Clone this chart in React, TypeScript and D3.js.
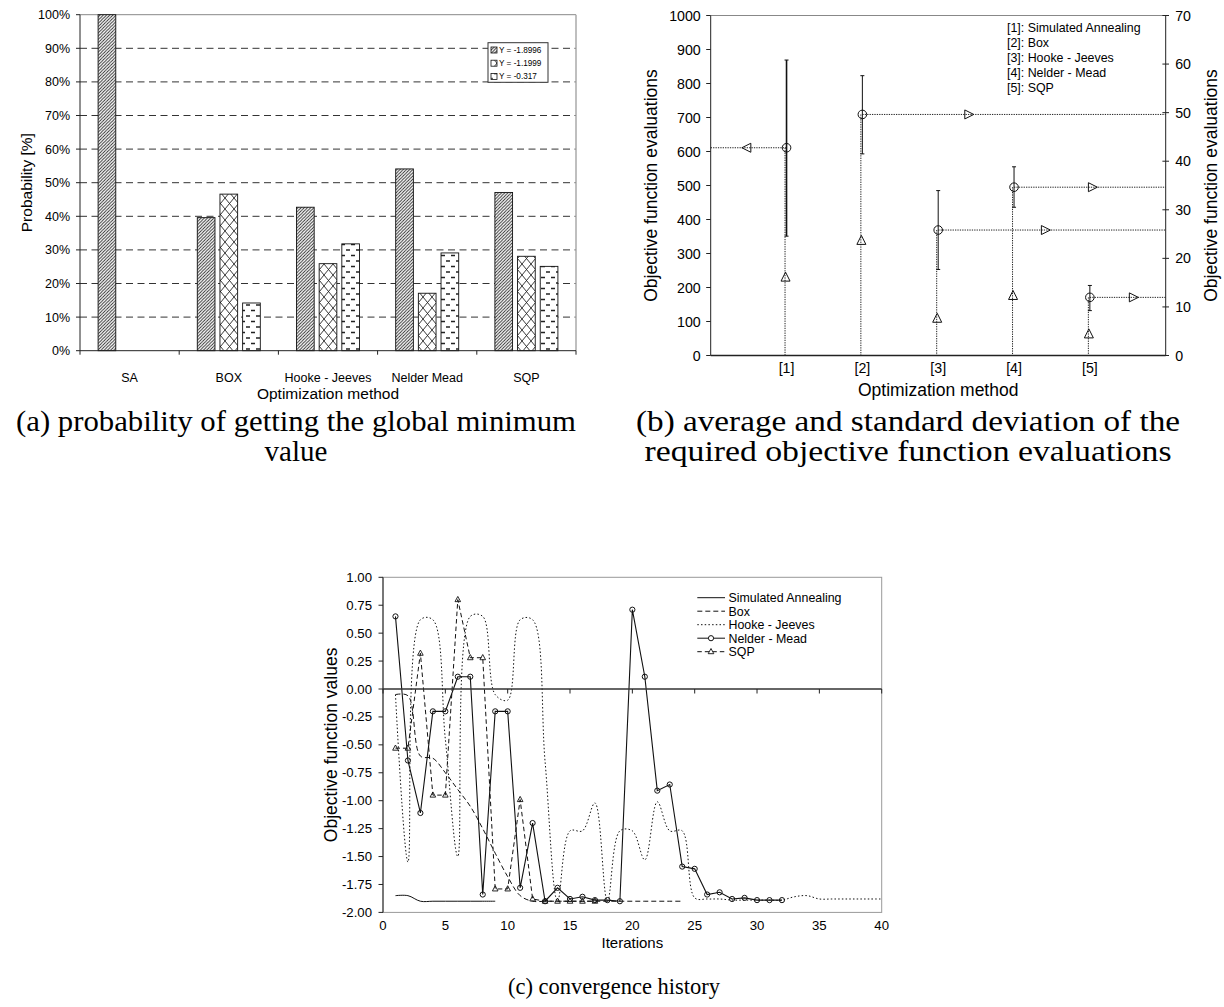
import React from "react";
import * as d3 from "d3";

// ---------- (a) probability of getting the global minimum ----------
const methodsA = ["SA", "BOX", "Hooke - Jeeves", "Nelder Mead", "SQP"];
const levelsA = ["Y = -1.8996", "Y = -1.1999", "Y = -0.317"];
const probLow = [100, 39.6, 42.7, 54.1, 47.1];
const probMid = [0, 46.6, 25.9, 17.1, 28.1];
const probHigh = [0, 14.2, 31.8, 29.1, 25.1];
const probTicks = [0, 10, 20, 30, 40, 50, 60, 70, 80, 90, 100];

// ---------- (b) objective function evaluations ----------
const methodsB = ["[1]", "[2]", "[3]", "[4]", "[5]"];
const legendB = [
  "[1]: Simulated Annealing",
  "[2]: Box",
  "[3]: Hooke - Jeeves",
  "[4]: Nelder - Mead",
  "[5]: SQP",
];
const evalMean = [611, 709, 369, 495, 171];
const evalHigh = [869, 823, 485, 555, 206];
const evalLow = [351, 593, 253, 436, 132];
const evalStd = [232, 340, 111, 178, 65];
const arrowAt = [0.47, 3.41, 4.42, 5.04, 5.58];
const arrowSide = ["left", "right", "right", "right", "right"];
const leftTicksB = [0, 100, 200, 300, 400, 500, 600, 700, 800, 900, 1000];
const rightTicksB = [0, 10, 20, 30, 40, 50, 60, 70];

// ---------- (c) convergence history ----------
const histSA = [-1.85, -1.85, -1.9, -1.9, -1.9, -1.9, -1.9, -1.9, -1.9];
const histBox = [
  -0.05, -0.06, -0.6, -0.62, -0.75, -0.9, -1.05, -1.25, -1.47, -1.68, -1.85, -1.9,
  -1.9, -1.9, -1.9, -1.9, -1.9, -1.9, -1.9, -1.9, -1.9, -1.9, -1.9, -1.9,
];
const histHJ = [
  -0.05, -1.55, 0.62, 0.62, -0.45, -1.5, 0.65, 0.65, -0.05, -0.1, 0.62, 0.62, -0.65,
  -1.9, -1.27, -1.27, -1.02, -1.9, -1.27, -1.27, -1.53, -1.01, -1.27, -1.27, -1.87,
  -1.88, -1.88, -1.89, -1.89, -1.89, -1.89, -1.89, -1.86, -1.85, -1.88, -1.88, -1.88,
  -1.88, -1.88, -1.88,
];
const histNM = [
  0.65, -0.64, -1.11, -0.2, -0.2, 0.11, 0.11, -1.84, -0.2, -0.2, -1.78, -1.2, -1.9,
  -1.78, -1.88, -1.86, -1.89, -1.89, -1.9, 0.71, 0.11, -0.91, -0.855, -1.59, -1.61,
  -1.84, -1.82, -1.88, -1.87, -1.89, -1.89, -1.89,
];
const histSQP = [
  -0.53, -0.53, 0.32, -0.95, -0.95, 0.8, 0.28, 0.28, -1.79, -1.79, -0.99, -1.88, -1.9,
  -1.9, -1.9, -1.9, -1.9,
];
const seriesC = ["Simulated Annealing", "Box", "Hooke - Jeeves", "Nelder - Mead", "SQP"];
const iterTicks = [0, 5, 10, 15, 20, 25, 30, 35, 40];
const valueTicks = [1, 0.75, 0.5, 0.25, 0, -0.25, -0.5, -0.75, -1, -1.25, -1.5, -1.75, -2];

const sans = "'Liberation Sans', Arial, sans-serif";
const serif = "'Liberation Serif', 'Times New Roman', serif";

function Patterns() {
  return (
    <defs>
      <pattern id="hatchA" patternUnits="userSpaceOnUse" width="3.2" height="3.2">
        <rect width="3.2" height="3.2" fill="white" />
        <path d="M-0.8,0.8 L0.8,-0.8 M0,3.2 L3.2,0 M2.4,4 L4,2.4" stroke="#222" strokeWidth="0.9" />
      </pattern>
      <pattern id="crossA" patternUnits="userSpaceOnUse" width="9" height="11">
        <rect width="9" height="11" fill="white" />
        <path d="M0,0 L9,11 M9,0 L0,11" stroke="#222" strokeWidth="0.9" />
      </pattern>
      <pattern id="dashA" patternUnits="userSpaceOnUse" width="10" height="11">
        <rect width="10" height="11" fill="white" />
        <path d="M1,2.5 H5 M6,8 H10" stroke="#222" strokeWidth="1.4" />
      </pattern>
    </defs>
  );
}

function ChartA() {
  const x = d3.scaleBand().domain(methodsA).range([80, 576]);
  const y = d3.scaleLinear().domain([0, 100]).range([350.7, 14.7]);
  const sub = d3.scaleBand<number>().domain([0, 1, 2]).range([-34, 34]).paddingInner(0.22).paddingOuter(0.11);
  const series = [probLow, probMid, probHigh];
  const fills = ["url(#hatchA)", "url(#crossA)", "url(#dashA)"];
  const [x0, x1] = x.range();
  return (
    <g fontFamily={sans}>
      {probTicks.slice(1, -1).map((t) => (
        <line key={t} x1={x0} x2={x1} y1={y(t)} y2={y(t)} stroke="#333" strokeDasharray="7 4.5" />
      ))}
      <line x1={x0} x2={x1} y1={y(100)} y2={y(100)} stroke="#888" />
      <line x1={x1} x2={x1} y1={y(100)} y2={y(0)} stroke="#aaa" strokeWidth={1.5} />
      {methodsA.map((m, i) =>
        series.map((s, k) =>
          s[i] > 0 ? (
            <rect
              key={m + k}
              x={x(m)! + x.bandwidth() / 2 + sub(k)!}
              width={sub.bandwidth()}
              y={y(s[i])}
              height={y(0) - y(s[i])}
              fill={fills[k]}
              stroke="#111"
              strokeWidth={0.9}
            />
          ) : null
        )
      )}
      <line x1={x0} x2={x0} y1={y(100)} y2={y(0)} stroke="#222" />
      <line x1={x0} x2={x1} y1={y(0)} y2={y(0)} stroke="#222" />
      {probTicks.map((t) => (
        <g key={t}>
          <line x1={x0 - 4} x2={x0} y1={y(t)} y2={y(t)} stroke="#222" />
          <text x={x0 - 10} y={y(t) + 4.5} textAnchor="end" fontSize={12.5}>
            {t}%
          </text>
        </g>
      ))}
      {methodsA.map((m, i) => (
        <g key={m}>
          <line x1={x(m)!} x2={x(m)!} y1={y(0)} y2={y(0) + 4} stroke="#222" />
          <text x={x(m)! + x.bandwidth() / 2} y={y(0) + 31} textAnchor="middle" fontSize={12.5}>
            {m}
          </text>
        </g>
      ))}
      <line x1={x1} x2={x1} y1={y(0)} y2={y(0) + 4} stroke="#222" />
      <text x={(x0 + x1) / 2} y={y(0) + 48} textAnchor="middle" fontSize={15.5}>
        Optimization method
      </text>
      <text transform={`translate(32,${(y(0) + y(100)) / 2}) rotate(-90)`} textAnchor="middle" fontSize={15.5}>
        Probability [%]
      </text>
      <g transform="translate(488,42.7)">
        <rect width={60} height={39.6} fill="white" stroke="#333" />
        {levelsA.map((l, k) => (
          <g key={l} transform={`translate(0,${7.3 + k * 13.2})`}>
            <rect x={3} y={-3} width={6} height={6} fill={fills[k]} stroke="#111" strokeWidth={0.8} />
            <text x={11} y={3} fontSize={8.2}>
              {l}
            </text>
          </g>
        ))}
      </g>
      <text x={296} y={431} textAnchor="middle" fontFamily={serif} fontSize={30} textLength={560} lengthAdjust="spacingAndGlyphs">
        (a) probability of getting the global minimum
      </text>
      <text x={296} y={461} textAnchor="middle" fontFamily={serif} fontSize={29}>
        value
      </text>
    </g>
  );
}

function ChartB() {
  const x = d3.scaleLinear().domain([0, 6]).range([710.7, 1165.7]);
  const yL = d3.scaleLinear().domain([0, 1000]).range([355.5, 15.5]);
  const yR = d3.scaleLinear().domain([0, 70]).range([355.5, 15.5]);
  const dot = { stroke: "#222", strokeDasharray: "1.3 1.1", strokeWidth: 1, fill: "none" };
  const tri = (cx: number, cy: number, dir: string) => {
    const s = 4.5;
    if (dir === "up") return `M${cx},${cy - s} L${cx + s},${cy + s} L${cx - s},${cy + s}Z`;
    if (dir === "left") return `M${cx - s},${cy} L${cx + s},${cy - s} L${cx + s},${cy + s}Z`;
    return `M${cx + s},${cy} L${cx - s},${cy - s} L${cx - s},${cy + s}Z`;
  };
  return (
    <g fontFamily={sans}>
      <line x1={x(0)} x2={x(6)} y1={yL(1000)} y2={yL(1000)} stroke="#888" />
      {methodsB.map((m, i) => {
        const cx = x(i + 1);
        const cy = yL(evalMean[i]);
        const hx0 = arrowSide[i] === "left" ? x(0) : cx;
        const hx1 = arrowSide[i] === "left" ? cx : x(6);
        return (
          <g key={m}>
            <line x1={cx - 1.5} x2={cx - 1.5} y1={cy} y2={yL(0)} {...dot} />
            <line x1={hx0} x2={hx1} y1={cy} y2={cy} {...dot} />
            <line x1={cx} x2={cx} y1={yL(evalHigh[i])} y2={yL(evalLow[i])} stroke="#111" strokeWidth={i === 0 ? 1.6 : 1} />
            <line x1={cx - 2} x2={cx + 2} y1={yL(evalHigh[i])} y2={yL(evalHigh[i])} stroke="#111" />
            <line x1={cx - 2} x2={cx + 2} y1={yL(evalLow[i])} y2={yL(evalLow[i])} stroke="#111" />
            <circle cx={cx} cy={cy} r={4.3} fill="none" stroke="#111" strokeWidth={1} />
            <path d={tri(cx - 1, yL(evalStd[i]), "up")} fill="none" stroke="#111" />
            <path d={tri(x(arrowAt[i]), cy, arrowSide[i])} fill="none" stroke="#111" />
          </g>
        );
      })}
      <line x1={x(0)} x2={x(0)} y1={yL(1000)} y2={yL(0)} stroke="#222" />
      <line x1={x(6)} x2={x(6)} y1={yL(1000)} y2={yL(0)} stroke="#222" />
      <line x1={x(0)} x2={x(6)} y1={yL(0)} y2={yL(0)} stroke="#222" strokeWidth={1.3} />
      {leftTicksB.map((t) => (
        <g key={t}>
          <line x1={x(0) - 4.5} x2={x(0)} y1={yL(t)} y2={yL(t)} stroke="#222" />
          <text x={x(0) - 10} y={yL(t) + 5} textAnchor="end" fontSize={14.2}>
            {t}
          </text>
        </g>
      ))}
      {rightTicksB.map((t) => (
        <g key={t}>
          <line x1={x(6) - 3.3} x2={x(6) + 3.3} y1={yR(t)} y2={yR(t)} stroke="#222" />
          <text x={x(6) + 9.5} y={yR(t) + 5} fontSize={14.2}>
            {t}
          </text>
        </g>
      ))}
      {methodsB.map((m, i) => (
        <text key={m} x={x(i + 1)} y={yL(0) + 17} textAnchor="middle" fontSize={14.2}>
          {m}
        </text>
      ))}
      <text x={(x(0) + x(6)) / 2} y={yL(0) + 40} textAnchor="middle" fontSize={17.5}>
        Optimization method
      </text>
      <text transform={`translate(657,${(yL(0) + yL(1000)) / 2}) rotate(-90)`} textAnchor="middle" fontSize={17.5}>
        Objective function evaluations
      </text>
      <text transform={`translate(1217,${(yL(0) + yL(1000)) / 2}) rotate(-90)`} textAnchor="middle" fontSize={17.5}>
        Objective function evaluations
      </text>
      {legendB.map((l, k) => (
        <text key={l} x={1007} y={32 + k * 14.9} fontSize={12.4}>
          {l}
        </text>
      ))}
      <text x={908} y={431} textAnchor="middle" fontFamily={serif} fontSize={30} textLength={544} lengthAdjust="spacingAndGlyphs">
        (b) average and standard deviation of the
      </text>
      <text x={908} y={461} textAnchor="middle" fontFamily={serif} fontSize={30} textLength={527} lengthAdjust="spacingAndGlyphs">
        required objective function evaluations
      </text>
    </g>
  );
}

function ChartC() {
  const x = d3.scaleLinear().domain([0, 40]).range([383, 881.7]);
  const y = d3.scaleLinear().domain([-2, 1]).range([912.4, 577.3]);
  const pts = (vals: number[]) => vals.map((v, i) => [i + 1, v] as [number, number]);
  const smooth = d3
    .line<[number, number]>()
    .x((d) => x(d[0]))
    .y((d) => y(d[1]))
    .curve(d3.curveCatmullRom.alpha(0.5));
  const straight = d3
    .line<[number, number]>()
    .x((d) => x(d[0]))
    .y((d) => y(d[1]));
  const triPath = (cx: number, cy: number) => `M${cx},${cy - 3.2} L${cx + 2.8},${cy + 2} L${cx - 2.8},${cy + 2}Z`;
  const styles = [
    { dash: undefined, marker: "none" },
    { dash: "5 3", marker: "none" },
    { dash: "1.5 2.2", marker: "none" },
    { dash: undefined, marker: "circle" },
    { dash: "4.5 3", marker: "tri" },
  ];
  return (
    <g fontFamily={sans}>
      <rect x={x(0)} y={y(1)} width={x(40) - x(0)} height={y(-2) - y(1)} fill="none" stroke="#999" />
      <path d={smooth(pts(histSA))!} fill="none" stroke="#111" strokeWidth={1} />
      <path d={smooth(pts(histBox))!} fill="none" stroke="#111" strokeWidth={1} strokeDasharray="5 3" />
      <path d={smooth(pts(histHJ))!} fill="none" stroke="#111" strokeWidth={1} strokeDasharray="1.5 2.2" />
      <path d={straight(pts(histSQP))!} fill="none" stroke="#111" strokeWidth={1} strokeDasharray="4.5 3" />
      <path d={straight(pts(histNM))!} fill="none" stroke="#111" strokeWidth={1.1} />
      {pts(histNM).map((d) => (
        <circle key={"n" + d[0]} cx={x(d[0])} cy={y(d[1])} r={2.6} fill="none" stroke="#111" strokeWidth={1} />
      ))}
      {pts(histSQP).map((d) => (
        <path key={"s" + d[0]} d={triPath(x(d[0]), y(d[1]))} fill="none" stroke="#111" strokeWidth={0.9} />
      ))}
      <line x1={x(0)} x2={x(0)} y1={y(1)} y2={y(-2)} stroke="#222" />
      <line x1={x(0)} x2={x(40)} y1={y(0)} y2={y(0)} stroke="#333" strokeWidth={1.5} />
      {valueTicks.map((t) => (
        <g key={t}>
          <line x1={x(0) - 4.5} x2={x(0)} y1={y(t)} y2={y(t)} stroke="#222" />
          <text x={x(0) - 11} y={y(t) + 4.5} textAnchor="end" fontSize={13.2}>
            {t.toFixed(2)}
          </text>
        </g>
      ))}
      {iterTicks.map((t) => (
        <g key={t}>
          <line x1={x(t)} x2={x(t)} y1={y(0)} y2={y(0) + 4.5} stroke="#222" />
          <text x={x(t)} y={y(-2) + 18} textAnchor="middle" fontSize={13.2}>
            {t}
          </text>
        </g>
      ))}
      <text x={(x(0) + x(40)) / 2} y={y(-2) + 36} textAnchor="middle" fontSize={15}>
        Iterations
      </text>
      <text transform={`translate(337,${(y(1) + y(-2)) / 2}) rotate(-90)`} textAnchor="middle" fontSize={17.5}>
        Objective function values
      </text>
      {seriesC.map((s, k) => {
        const ly = 597.7 + k * 13.5;
        return (
          <g key={s}>
            <line x1={697.3} x2={725} y1={ly} y2={ly} stroke="#111" strokeDasharray={styles[k].dash} />
            {styles[k].marker === "circle" && <circle cx={711} cy={ly} r={2.6} fill="white" stroke="#111" />}
            {styles[k].marker === "tri" && <path d={triPath(711, ly)} fill="white" stroke="#111" strokeWidth={0.9} />}
            <text x={728.5} y={ly + 4.5} fontSize={12.4}>
              {s}
            </text>
          </g>
        );
      })}
      <text x={614} y={994} textAnchor="middle" fontFamily={serif} fontSize={23} textLength={212} lengthAdjust="spacingAndGlyphs">
        (c) convergence history
      </text>
    </g>
  );
}

export default function App() {
  return (
    <div style={{ position: "absolute", left: 0, top: 0 }}>
      <svg width={1224} height={1007} style={{ display: "block", background: "white" }}>
        <Patterns />
        <ChartA />
        <ChartB />
        <ChartC />
      </svg>
    </div>
  );
}
